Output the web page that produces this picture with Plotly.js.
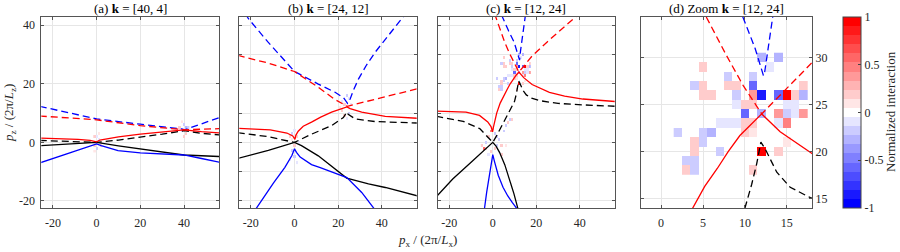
<!DOCTYPE html>
<html><head><meta charset="utf-8">
<script src="https://cdn.plot.ly/plotly-3.0.1.min.js"></script>
<style>html,body{margin:0;padding:0;background:#fff}#chart{width:900px;height:252px}</style>
</head><body><div id="chart"></div>
<script>
// ---------- tick labels ----------
const tickXabc = [-20, 0, 20, 40];
const tickXabcText = ['-20', '0', '20', '40'];
const tickYa = [-20, 0, 20, 40];
const tickYaText = ['-20', '0', '20', '40'];
const tickYbc = [-20, -10, 0, 10, 20, 30, 40];
const tickXd = [0, 5, 10, 15];
const tickXdText = ['0', '5', '10', '15'];
const tickYd = [15, 20, 25, 30];
const tickYdText = ['15', '20', '25', '30'];
const cbTicks = [-1, -0.5, 0, 0.5, 1];
const cbTickText = ['-1', '-0.5', '0', '0.5', '1'];
const panelTitles = ['(a) <b>k</b> = [40, 4]', '(b) <b>k</b> = [24, 12]', '(c) <b>k</b> = [12, 24]', '(d) Zoom <b>k</b> = [12, 24]'];

// ---------- panel (a) curves ----------
const aRedSolidX = [-26, -15, -8.5, -3, 0, 1.5, 3.7, 10, 20, 30, 40, 48, 57];
const aRedSolidY = [1.45, 1.3, 1.0, 0.7, 0.2, 0.8, 1.1, 1.9, 2.8, 3.6, 4.3, 3.7, 3.2];
const aRedDashX = [-26, -12, 0, 20, 30, 40, 48, 57];
const aRedDashY = [9.0, 8.4, 7.7, 5.7, 4.9, 4.3, 4.5, 4.7];
const aBlueDashX = [-26, -12, 0, 20, 30, 39, 40.3, 48, 57];
const aBlueDashY = [12.3, 10.0, 8.0, 6.2, 5.4, 4.6, 4.3, 6.4, 8.7];
const aBlueSolidX = [-26, -12, 0, 2.1, 9.8, 20, 30, 40, 48, 57];
const aBlueSolidY = [-7.0, -3.6, -0.5, -1.1, -2.8, -3.6, -4.0, -4.3, -5.5, -6.9];
const aBlackSolidX = [-26, 0, 10, 20, 30, 40, 57];
const aBlackSolidY = [-1.15, 0, -1.2, -2.3, -3.3, -4.3, -4.85];
const aBlackDashX = [-26, 0, 10, 20, 30, 40, 48, 57];
const aBlackDashY = [0.65, 0, 0.8, 1.7, 2.8, 4.0, 3.1, 2.5];

// ---------- panel (b) curves ----------
const bBlueDashX = [-22.5, -21.2, -12.1, 0, 10.9, 18.6, 22.5, 24.3, 25.5, 27, 29.3, 33, 37, 43, 49.2, 51];
const bBlueDashY = [44, 42.3, 34.2, 24.2, 19.9, 17.1, 15.2, 13.3, 14.8, 17.8, 21.6, 26.4, 30.8, 36.6, 42.4, 44];
const bRedDashX = [-26, -12.7, 0, 10.9, 18.6, 24.2, 40, 57];
const bRedDashY = [29.7, 27.2, 24.2, 18.8, 14.6, 12.3, 15.3, 18.4];
const bRedSolidX = [-26, -11.1, -3.5, -0.8, 0.2, 0.6, 1.7, 4, 7.8, 12, 17, 21, 24, 25.5, 30.8, 41.6, 57];
const bRedSolidY = [4.8, 4.3, 3.2, 2.2, 1.0, 2.4, 3.8, 5.5, 6.9, 8.6, 10.3, 11.3, 12.1, 11.5, 10.3, 8.9, 8.2];
const bBlackDashX = [-26, -12.5, 0, 7.8, 17, 22.4, 24.0, 24.6, 27.8, 37, 57];
const bBlackDashY = [3.3, 2.0, 0, 2.8, 5.7, 8.5, 10.4, 9.6, 8.0, 7.1, 6.6];
const bBlackSolidX = [-26, -12, 0, 3.2, 10.9, 18.6, 23.9, 33.9, 41.6, 57];
const bBlackSolidY = [-5.5, -2.7, 0, -1.1, -4.6, -9.1, -12.2, -14.2, -15.4, -18.4];
const bBlueSolidX = [-18.5, -17.6, -14, -9.6, -4.4, -1.2, 0, 0.9, 2.6, 7.8, 11.8, 18, 24, 30.8, 36.7, 37.5];
const bBlueSolidY = [-23.6, -22.6, -18.8, -13.8, -8.5, -4.5, -2.2, -3.4, -5.0, -7.6, -8.6, -10.3, -12.0, -17.1, -22.6, -23.6];

// ---------- panel (c) / (d) curves ----------
const cRedDashX = [0.8, 5.45, 7.8, 9.8, 12.0, 15.0, 18.06, 25, 37.6, 39.5];
const cRedDashY = [44, 34.2, 30.2, 27.0, 24.0, 26.7, 29.5, 34.3, 42.4, 43.8];
const cRedSolidX = [-26, -12.3, -6.1, -2.3, -0.8, -0.1, 0.3, 0.9, 1.8, 3.4, 5.2, 6.7, 8.0, 9.4, 10.8, 12.0, 14.2, 18.06, 22, 26, 33, 41.4, 57];
const cRedSolidY = [10.7, 10.3, 9.2, 7.0, 5.4, 3.6, 5.2, 7.4, 10.0, 13.4, 16.3, 18.2, 20.0, 21.7, 23.0, 24.0, 22.1, 19.75, 18.3, 17.1, 15.8, 14.8, 13.9];
const cBlackDashX = [-26, -13.6, -6, -2.2, 0, 1.7, 3.5, 5.5, 7.5, 9.0, 10.0, 10.8, 11.4, 11.9, 12.4, 13.8, 15.4, 17.8, 22, 30, 41.4, 57];
const cBlackDashY = [8.9, 7.2, 4.7, 1.8, 0, 2.2, 4.8, 7.6, 10.5, 12.6, 14.0, 16.5, 18.7, 21.0, 20.3, 17.8, 16.2, 15.1, 14.2, 13.3, 12.8, 12.3];
const cBlackSolidX = [-26, -18.4, -9.2, -3.1, 0, 1.5, 3.1, 5.5, 7.7, 9.7, 11.5, 12.2];
const cBlackSolidY = [-18.6, -12.5, -6.3, -2.3, 0, -1.3, -3.4, -7.6, -12.5, -17.5, -22.5, -24.5];
const cBlueSolidX = [-4.3, -3.8, -2.8, -1.8, -0.8, 0, 0.7, 1.7, 2.5, 4.7, 6.9, 9, 11.1, 12];
const cBlueSolidY = [-24.5, -22.5, -17, -12, -7.5, -4.2, -6.3, -9.6, -11.2, -15.3, -18.3, -20.6, -22.6, -23.5];
const cBlueDashX = [4.0, 4.7, 7.3, 9.8, 11.2, 12.2, 12.3, 12.7, 13.2, 14.0, 14.7, 15.0];
const cBlueDashY = [43.5, 42.2, 38.0, 34.2, 31.0, 28.1, 28.1, 31.0, 34.2, 38.5, 42.2, 43.5];

// ---------- interaction cells (px, pz, value) ----------
const aCellX = [-1, -1, 0, 1, 2, 1, -1, 0, 38, 39, 40, 41, 42, 40, 39, 41];
const aCellY = [2, -1, -2, 1, -1, 3, -3, 2, 5, 4, 6, 3, 5, 2, 7, 5];
const aCellV = [0.15, 0.15, -0.15, -0.1, 0.15, 0.1, 0.1, -0.1, 0.15, -0.2, -0.15, 0.15, -0.15, 0.15, 0.1, -0.3];
const bCellX = [-1, 0, 1, -1, 0, -1, 0, -2, 1, 2, -2, 24, 25, 23, 22, 23, 25, 24, 22, 21, 26];
const bCellY = [3, 4, 2, 1, -1, -3, -5, -6, -7, 0, 2, 16, 15, 13, 11, 9, 10, 8, 14, 12, 13];
const bCellV = [-0.15, -0.1, 0.15, 0.1, 0.15, -0.15, -0.15, -0.1, -0.1, -0.1, 0.15, -0.15, -0.1, 0.15, 0.2, 0.15, -0.15, -0.1, -0.1, 0.1, -0.1];
const cOriginCellX = [-4, -3, -5, -2, -1, 0, 1, 2, 3, 4, -3, -1, 1, 2, 5, 6, 7, 8, 9, 4, 6, -2];
const cOriginCellY = [-2, -2, -1, 2, 4, 5, 3, 2, 1, -1, 0, -3, -2, -1, 4, 6, 7, 8, 8, -4, -1, -4];
const cOriginCellV = [0.6, 0.2, 0.15, 0.15, 0.5, 0.15, -0.15, -0.2, -0.15, 0.15, -0.15, 0.15, 0.15, -0.15, -0.15, -0.2, 0.15, -0.15, 0.15, 0.15, 0.1, -0.1];
const dCellX = [12, 14, 5, 13, 8, 11, 4, 5, 8, 9, 11, 17, 5, 6, 9, 11, 12, 14, 15, 16, 17, 9, 10, 11, 15, 16, 10, 12, 14, 15, 16, 17, 7, 8, 9, 10, 11, 14, 15, 2, 5, 6, 10, 11, 4, 5, 15, 4, 7, 12, 14, 3, 4, 3, 4, 11];
const dCellY = [30, 30, 29, 29, 28, 28, 27, 27, 27, 27, 27, 27, 26, 26, 26, 26, 26, 26, 26, 26, 26, 25, 25, 25, 25, 25, 24, 24, 24, 24, 24, 24, 23, 23, 23, 23, 23, 23, 23, 22, 22, 22, 22, 22, 21, 21, 21, 20, 20, 20, 20, 19, 19, 18, 18, 18];
const dCellV = [-0.25, -0.25, 0.15, -0.1, -0.15, -0.15, -0.15, 0.15, 0.15, 0.15, -0.6, 0.15, 0.15, 0.15, -0.15, 0.4, -0.85, -0.6, 1.0, 0.2, -0.25, -0.1, 0.15, 0.15, -0.1, -0.1, -0.6, -0.3, 0.4, -0.15, -0.1, 0.4, -0.1, -0.1, -0.1, 0.15, 0.15, -0.1, 0.5, -0.15, -0.15, -0.3, 0.15, 0.1, 0.15, -0.15, 0.1, 0.15, -0.2, 1.0, 0.2, -0.15, -0.15, 0.15, -0.15, 0.15];

// ---------- helpers ----------
const SERIF = '"Liberation Serif", "Times New Roman", serif';
const RED = '#ff0000', BLUE = '#0000ff', BLACK = '#000000';
const DASH = '7px,4px';

function grid(xs, ys, vs) {
  const x0 = Math.min(...xs), x1 = Math.max(...xs), y0 = Math.min(...ys), y1 = Math.max(...ys);
  const gx = [], gy = [], z = [];
  for (let x = x0; x <= x1; x++) gx.push(x);
  for (let y = y0; y <= y1; y++) { gy.push(y); z.push(gx.map(() => null)); }
  xs.forEach((x, i) => { z[ys[i] - y0][x - x0] = vs[i]; });
  return {x: gx, y: gy, z: z};
}
const colorscale = [];
for (let i = 0; i < 21; i++) {
  const t = (i - 10) / 10;
  let r, g, b;
  if (t < 0) { r = Math.round(255 * (1 + t)); g = r; b = 255; }
  else { r = 255; g = Math.round(255 * (1 - t)); b = g; }
  const c = `rgb(${r},${g},${b})`;
  colorscale.push([i / 21, c]);
  colorscale.push([(i + 1) / 21, c]);
}
function heat(xs, ys, vs, xa, ya, showscale) {
  const g = grid(xs, ys, vs);
  const tr = {type: 'heatmap', x: g.x, y: g.y, z: g.z, xaxis: xa, yaxis: ya, zmin: -1, zmax: 1,
    colorscale: colorscale, showscale: !!showscale, hoverinfo: 'skip', zsmooth: false};
  if (showscale) {
    tr.colorbar = {x: 843 / 900, xanchor: 'left', xpad: 0, ypad: 0, y: 1 - 17 / 252, yanchor: 'top',
      len: 191, lenmode: 'pixels', thickness: 18, thicknessmode: 'pixels',
      outlinewidth: 1, outlinecolor: '#444', ticks: 'inside', ticklen: 3, tickcolor: '#444',
      tickvals: cbTicks, ticktext: cbTickText, tickfont: {family: SERIF, size: 12, color: '#262626'}};
  }
  return tr;
}
function line(xs, ys, color, dashed, xa, ya) {
  return {type: 'scatter', mode: 'lines', x: xs, y: ys, xaxis: xa, yaxis: ya, hoverinfo: 'skip',
    line: {color: color, width: 1.3, dash: dashed ? DASH : 'solid'}};
}

const cAllX = cOriginCellX.concat(dCellX), cAllY = cOriginCellY.concat(dCellY), cAllV = cOriginCellV.concat(dCellV);

const data = [
  heat(aCellX, aCellY, aCellV, 'x', 'y'),
  heat(bCellX, bCellY, bCellV, 'x2', 'y2'),
  heat(cAllX, cAllY, cAllV, 'x3', 'y3'),
  heat(dCellX, dCellY, dCellV, 'x4', 'y4', true),
  line(aBlueDashX, aBlueDashY, BLUE, true, 'x', 'y'),
  line(aRedDashX, aRedDashY, RED, true, 'x', 'y'),
  line(aBlackDashX, aBlackDashY, BLACK, true, 'x', 'y'),
  line(aBlackSolidX, aBlackSolidY, BLACK, false, 'x', 'y'),
  line(aBlueSolidX, aBlueSolidY, BLUE, false, 'x', 'y'),
  line(aRedSolidX, aRedSolidY, RED, false, 'x', 'y'),
  line(bBlueDashX, bBlueDashY, BLUE, true, 'x2', 'y2'),
  line(bRedDashX, bRedDashY, RED, true, 'x2', 'y2'),
  line(bBlackDashX, bBlackDashY, BLACK, true, 'x2', 'y2'),
  line(bBlackSolidX, bBlackSolidY, BLACK, false, 'x2', 'y2'),
  line(bBlueSolidX, bBlueSolidY, BLUE, false, 'x2', 'y2'),
  line(bRedSolidX, bRedSolidY, RED, false, 'x2', 'y2'),
];
['3', '4'].forEach(k => {
  const xa = 'x' + k, ya = 'y' + k;
  data.push(line(cBlueDashX, cBlueDashY, BLUE, true, xa, ya));
  data.push(line(cRedDashX, cRedDashY, RED, true, xa, ya));
  data.push(line(cBlackDashX, cBlackDashY, BLACK, true, xa, ya));
  data.push(line(cBlackSolidX, cBlackSolidY, BLACK, false, xa, ya));
  data.push(line(cBlueSolidX, cBlueSolidY, BLUE, false, xa, ya));
  data.push(line(cRedSolidX, cRedSolidY, RED, false, xa, ya));
});

const Y0 = 1 - 208 / 252, Y1 = 1 - 17 / 252;
function ax(extra) {
  return Object.assign({showline: true, linecolor: '#555', linewidth: 1, mirror: 'ticks', ticks: 'inside',
    ticklen: 3, tickcolor: '#555', showgrid: true, gridcolor: '#e6e6e6', gridwidth: 1, zeroline: false,
    tickfont: {family: SERIF, size: 12, color: '#262626'}, fixedrange: true}, extra);
}
const XR = [-25.3, 56];
const YR = [-22.4, 42.8];
const layout = {
  width: 900, height: 252, margin: {l: 0, r: 0, t: 0, b: 0},
  paper_bgcolor: '#fff', plot_bgcolor: '#fff', showlegend: false,
  xaxis: ax({domain: [41.3 / 900, 219 / 900], range: XR, anchor: 'y', tickvals: tickXabc, ticktext: tickXabcText, ticklabelstandoff: 4}),
  yaxis: ax({domain: [Y0, Y1], range: YR, anchor: 'x', tickvals: tickYa, ticktext: tickYaText, ticklabelstandoff: 3}),
  xaxis2: ax({domain: [239.3 / 900, 416.7 / 900], range: XR, anchor: 'y2', tickvals: tickXabc, ticktext: tickXabcText, ticklabelstandoff: 4}),
  yaxis2: ax({domain: [Y0, Y1], range: YR, anchor: 'x2', tickvals: tickYbc, showticklabels: false}),
  xaxis3: ax({domain: [437.7 / 900, 614.7 / 900], range: XR, anchor: 'y3', tickvals: tickXabc, ticktext: tickXabcText, ticklabelstandoff: 4}),
  yaxis3: ax({domain: [Y0, Y1], range: YR, anchor: 'x3', tickvals: tickYbc, showticklabels: false}),
  xaxis4: ax({domain: [641 / 900, 812 / 900], range: [-2.4, 18], anchor: 'y4', tickvals: tickXd, ticktext: tickXdText, ticklabelstandoff: 4}),
  yaxis4: ax({domain: [Y0, Y1], range: [14, 34.3], anchor: 'x4', side: 'right', tickvals: tickYd, ticktext: tickYdText}),
  annotations: [
    {text: panelTitles[0], x: 130.2 / 900},
    {text: panelTitles[1], x: 328 / 900},
    {text: panelTitles[2], x: 526.2 / 900},
    {text: panelTitles[3], x: 726.5 / 900}
  ].map(a => Object.assign({xref: 'paper', yref: 'paper', y: 1 - 8 / 252, xanchor: 'center', yanchor: 'middle',
      showarrow: false, font: {family: SERIF, size: 13, color: '#000'}}, a)).concat([
    {text: '<i>p</i><sub>z</sub> / (2π/<i>L</i><sub>z</sub>)', xref: 'paper', yref: 'paper', x: 10 / 900, y: 1 - 113 / 252,
      textangle: -90, showarrow: false, xanchor: 'center', yanchor: 'middle', font: {family: SERIF, size: 13, color: '#262626'}},
    {text: '<i>p</i><sub>x</sub> / (2π/<i>L</i><sub>x</sub>)', xref: 'paper', yref: 'paper', x: 427 / 900, y: 1 - 240 / 252,
      showarrow: false, xanchor: 'center', yanchor: 'middle', font: {family: SERIF, size: 13, color: '#262626'}},
    {text: 'Normalized interaction', xref: 'paper', yref: 'paper', x: 890 / 900, y: 1 - 112 / 252,
      textangle: -90, showarrow: false, xanchor: 'center', yanchor: 'middle', font: {family: SERIF, size: 13, color: '#262626'}}
  ])
};
Plotly.newPlot('chart', data, layout, {staticPlot: true, displayModeBar: false});
</script></body></html>
